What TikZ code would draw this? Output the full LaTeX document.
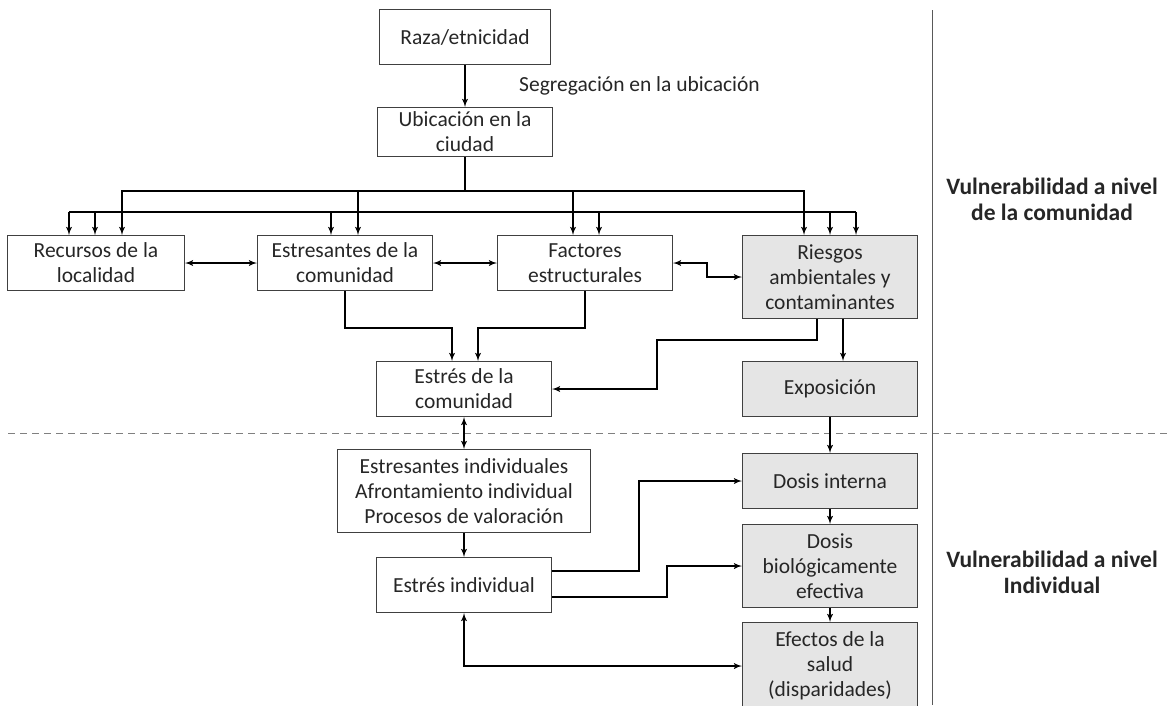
\documentclass[tikz,border=0pt]{standalone}
\usepackage{fontspec}
\setmainfont{Carlito}
\usetikzlibrary{arrows,calc}

\begin{document}
\begin{tikzpicture}[x=1pt,y=-1pt]
\tikzset{box/.style = {shape=rectangle,draw=black!75,line width=1pt,align=center,inner sep=0pt,text=black!85,font=\fontsize{21.5}{25}\selectfont}}
\tikzset{shaded/.style = {box,fill=black!10}}
\tikzset{edge/.style = {line width=1.8pt,> = latex'}}
\tikzset{side/.style = {align=center,text=black!85,font=\fontsize{23.5}{26}\selectfont\bfseries}}
\clip (0,0) rectangle (1172,705);
% vertices
\node[box,minimum width=171,minimum height=55] (raza) at (465,37) {Raza/etnicidad};
\node[box,minimum width=175,minimum height=49] (ubic) at (465,132) {Ubicación en la\\ciudad};
\node[box,minimum width=177,minimum height=55] (recursos) at (96,263) {Recursos de la\\localidad};
\node[box,minimum width=175,minimum height=55] (estres) at (345,263) {Estresantes de la\\comunidad};
\node[box,minimum width=175,minimum height=55] (factores) at (585,263) {Factores\\estructurales};
\node[shaded,minimum width=175,minimum height=83] (riesgos) at (830,277) {Riesgos\\ambientales y\\contaminantes};
\node[shaded,minimum width=175,minimum height=55] (exposicion) at (830,389) {Exposición};
\node[box,minimum width=175,minimum height=55] (estrescom) at (464,389) {Estrés de la\\comunidad};
\node[box,minimum width=253,minimum height=83] (indiv) at (464,491) {Estresantes individuales\\Afrontamiento individual\\Procesos de valoración};
\node[box,minimum width=175,minimum height=55] (estresind) at (464,585) {Estrés individual};
\node[shaded,minimum width=175,minimum height=55] (dosisint) at (830,481) {Dosis interna};
\node[shaded,minimum width=175,minimum height=83] (dosisbio) at (830,566) {Dosis\\biológicamente\\efectiva};
\node[shaded,minimum width=175,minimum height=87] (efectos) at (830,666) {Efectos de la\\salud\\(disparidades)};
\node[side] (vcom) at (1052,199) {Vulnerabilidad a nivel\\de la comunidad};
\node[side] (vind) at (1052,572) {Vulnerabilidad a nivel\\Individual};
\coordinate (bus1) at (465,191);
\coordinate (busL) at (69,212);
\coordinate (busR) at (856,212);
% separators
\draw[black!50,line width=1pt,dash pattern=on 7pt off 5pt] (8,433) -- (1172,433);
\draw[black!65,line width=1pt] (932,10) -- (932,705);
%edges
\draw[edge,->] (raza) -- node[anchor=west,xshift=50pt,text=black!85,font=\fontsize{21.5}{25}\selectfont] (seg) {Segregación en la ubicación} (ubic);
\draw[edge] (ubic.south) -- (bus1);
\draw[edge,->] (bus1) -| ($(recursos.north)+(26,0)$);
\draw[edge,->] (bus1) -| ($(estres.north)+(13,0)$);
\draw[edge,->] (bus1) -| ($(factores.north)+(-12,0)$);
\draw[edge,->] (bus1) -| ($(riesgos.north)+(-26,0)$);
\draw[edge] (busL) -- (busR);
\draw[edge,->] (busL) -- (busL |- recursos.north);
\draw[edge,->] ($(recursos.north |- busL)+(-1,0)$) -- ($(recursos.north)+(-1,0)$);
\draw[edge,->] ($(estres.north |- busL)+(-14,0)$) -- ($(estres.north)+(-14,0)$);
\draw[edge,->] ($(factores.north |- busL)+(14,0)$) -- ($(factores.north)+(14,0)$);
\draw[edge,->] (riesgos.north |- busL) -- (riesgos.north);
\draw[edge,->] (busR) -- (busR |- riesgos.north);

\draw[edge,<->] (recursos) -- (estres);
\draw[edge,<->] (estres) -- (factores);
\draw[edge,<->] (factores.east) -- ++(34,0) |- (riesgos.west);

\draw[edge,->] (estres.south) -- ++(0,37) -| ($(estrescom.north)+(-12,0)$);
\draw[edge,->] (factores.south) -- ++(0,37) -| ($(estrescom.north)+(14,0)$);
\draw[edge,->] ($(riesgos.south)+(-13,0)$) -- ++(0,21) -- ++(-160,0) |- (estrescom.east);
\draw[edge,->] ($(riesgos.south)+(13,0)$) -- ($(exposicion.north)+(13,0)$);

\draw[edge,<->] (estrescom) -- (indiv);
\draw[edge,->] (indiv) -- (estresind);
\draw[edge,->] (exposicion) -- (dosisint);
\draw[edge,->] ($(estresind.east)+(0,-14)$) -- ++(87,0) |- (dosisint.west);
\draw[edge,->] ($(estresind.east)+(0,12)$) -- ++(115,0) |- (dosisbio.west);
\draw[edge,<->] (estresind.south) |- (efectos.west);
\draw[edge,->] (dosisint) -- (dosisbio);
\draw[edge,->] (dosisbio) -- (efectos);
\end{tikzpicture}
\end{document}
